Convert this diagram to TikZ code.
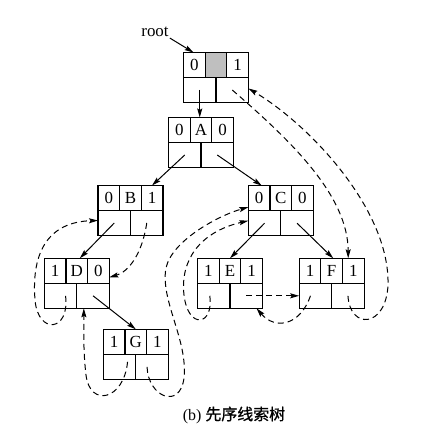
\documentclass[tikz,border=0pt]{standalone}
\usepackage{fontspec}
\setmainfont{Liberation Serif}
\newfontfamily\cjk[FakeBold=1]{Noto Sans CJK SC}
\usetikzlibrary{arrows.meta,calc}
\newcommand\thnode[6]{%
  \node[box] (#1) at (#2,#3+25) {};
  \draw[rule] (#1.west) -- (#1.east);
  \draw[rule] ($(#1.north west)+(21.67,0)$) -- ($(#1.west)+(21.67,0)$);
  \draw[rule] ($(#1.north east)+(-21.67,0)$) -- ($(#1.east)+(-21.67,0)$);
  \draw[rule] (#1.south) -- (#1.center);
  \node[cell] (#1-l) at (#2-21.67,#3+12.5) {#4};
  \node[cell] (#1-d) at (#2,#3+12.5) {#5};
  \node[cell] (#1-r) at (#2+21.67,#3+12.5) {#6};
  \coordinate (#1-bl) at (#2-16.25,#3+37.5);
  \coordinate (#1-br) at (#2+16.25,#3+37.5);
}
\begin{document}
\begin{tikzpicture}[x=1bp,y=-1bp,
  box/.style={draw,line width=1.1bp,minimum width=65bp,minimum height=50bp,inner sep=0pt,outer sep=0pt},
  rule/.style={line width=1.1bp},
  cell/.style={inner sep=0pt,font=\fontsize{17}{17}\selectfont},
  link/.style={line width=1bp,-{Stealth[length=9bp,width=5bp,inset=1.5bp]}},
  thread/.style={link,dash pattern=on 6bp off 4bp}]
\useasboundingbox (0,0) rectangle (438,436);
% shaded data cell of the head node
\fill[gray!50] (205.17,52.5) rectangle (226.83,77.5);
\thnode{H}{216}{52.5}{0}{}{1}
\thnode{A}{201}{117.5}{0}{A}{0}
\thnode{B}{130.5}{185.5}{0}{B}{1}
\thnode{C}{280.8}{185.7}{0}{C}{0}
\thnode{D}{76.8}{258.3}{1}{D}{0}
\thnode{E}{230}{258.3}{1}{E}{1}
\thnode{F}{331.7}{258.3}{1}{F}{1}
\thnode{G}{135.8}{329.3}{1}{G}{1}
\node[font=\fontsize{17}{17}\selectfont,inner sep=1bp] (rootlab) at (155,32) {root};
\node[font=\fontsize{16}{16}\selectfont] (cap) at (234,415) {(b) {\cjk 先序线索树}};
% child links
\draw[link] (rootlab.south east) -- ([xshift=10bp]H.north west);
\draw[link] (H-bl) -- (H-bl |- A.north);
\draw[link] (A-bl) -- ([xshift=21.5bp]B.north);
\draw[link] (A-br) -- ([xshift=-19bp]C.north);
\draw[link] (B-bl) -- ([xshift=3bp]D.north);
\draw[link] (D-br) -- (G.north);
\draw[link] (C-bl) -- (E.north);
\draw[link] (C-br) -- ([xshift=1.5bp]F.north);
% threads
\draw[thread] (H-br) .. controls (290,140) and (348,195) .. ([xshift=16.5bp]F.north);
\draw[thread] (F-br) .. controls (350,330) and (386,328) .. (388,285) .. controls (390,210) and (310,125) .. ([yshift=-11bp]H.east);
\draw[thread] (B-br) .. controls (142,255) and (128,272) .. ([yshift=6bp]D.east);
\draw[thread] ([xshift=5bp]D-bl) .. controls (70,332) and (38,335) .. (35,300) .. controls (31,250) and (50,222) .. ([yshift=-10bp]B.west);
\draw[thread] ([xshift=8bp,yshift=5bp]G-bl) .. controls (124,400) and (90,408) .. (86,375) .. controls (83,350) and (84,330) .. ([xshift=7bp]D.south);
\draw[thread] ([xshift=-5bp]G-br) .. controls (148,397) and (180,410) .. (184,378) .. controls (188,340) and (160,300) .. (166,268) .. controls (172,240) and (220,215) .. ([yshift=3.5bp]C.west);
\draw[thread] ([xshift=-4bp]E-bl) .. controls (214,326) and (188,330) .. (184,295) .. controls (180,260) and (200,232) .. ([yshift=-10bp]C.west);
\draw[thread] (E-br) -- (E-br -| F.west);
\draw[thread] ([xshift=-5bp]F-bl) .. controls (300,326) and (275,330) .. ([xshift=-6bp]E.south east);
\end{tikzpicture}
\end{document}
